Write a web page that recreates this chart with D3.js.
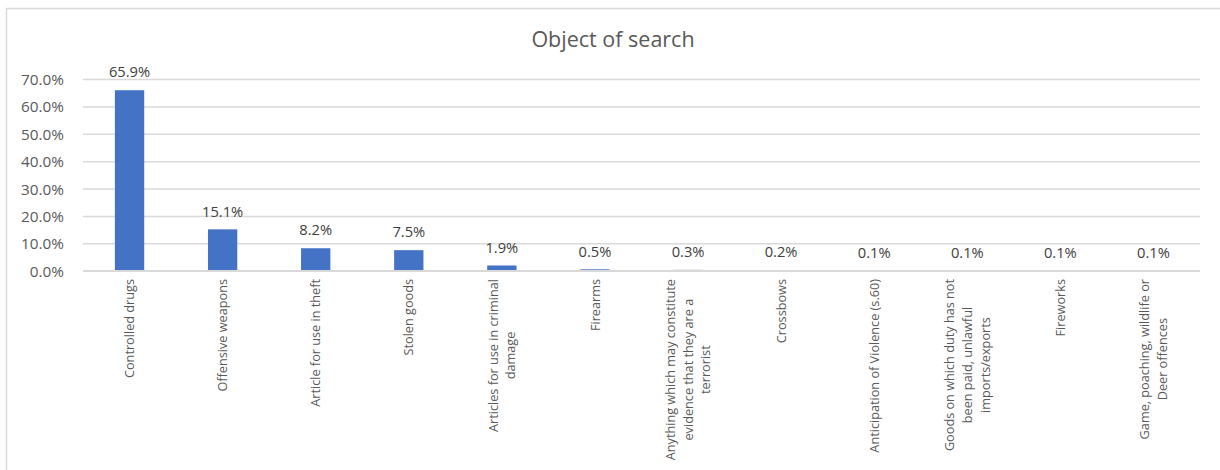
<!DOCTYPE html>
<html>
<head>
<meta charset="utf-8">
<script src="https://cdn.jsdelivr.net/npm/d3@7"></script>
<style>
  html, body { margin: 0; padding: 0; background: #fff; }
  svg { display: block; }
  text { font-family: "Open Sans", "Noto Sans", sans-serif; }
</style>
</head>
<body>
<svg id="chart" width="1220" height="470"></svg>
<script>
// ---- data ----
const title = "Object of search";
const categories = [
  "Controlled drugs",
  "Offensive weapons",
  "Article for use in theft",
  "Stolen goods",
  "Articles for use in criminal\ndamage",
  "Firearms",
  "Anything which may constitute\nevidence that they are a\nterrorist",
  "Crossbows",
  "Anticipation of Violence (s.60)",
  "Goods on which duty has not\nbeen paid, unlawful\nimports/exports",
  "Fireworks",
  "Game, poaching, wildlife or\nDeer offences"
];
const values = [65.9, 15.1, 8.2, 7.5, 1.9, 0.5, 0.3, 0.2, 0.1, 0.1, 0.1, 0.1];
const yTicks = [0, 10, 20, 30, 40, 50, 60, 70];

// ---- layout ----
const svg = d3.select("#chart");
const plot = { left: 83, right: 1200, top: 79, bottom: 270.7 };
const textColor = "#595959";
const gridColor = "#d9d9d9";
const barColor = "#4472C4";

// outer chart border (cropped at right/bottom like the reference)
svg.append("rect")
  .attr("x", 6.5).attr("y", 8.5)
  .attr("width", 1240).attr("height", 500)
  .attr("fill", "#fff")
  .attr("stroke", gridColor).attr("stroke-width", 1.5);

const x = d3.scaleBand()
  .domain(categories)
  .range([plot.left, plot.right])
  .paddingInner(0.685)
  .paddingOuter(0.3425);

const y = d3.scaleLinear()
  .domain([0, 70])
  .range([plot.bottom, plot.top]);

// title
svg.append("text")
  .attr("x", 613).attr("y", 46.5)
  .attr("text-anchor", "middle")
  .attr("fill", textColor)
  .style("font-size", "21.5px")
  .text(title);

// gridlines + y axis labels via d3.axisLeft
const yAxis = d3.axisLeft(y)
  .tickValues(yTicks)
  .tickSize(-(plot.right - plot.left))
  .tickPadding(19)
  .tickFormat(d => d.toFixed(1) + "%");

const gy = svg.append("g")
  .attr("transform", `translate(${plot.left},0)`)
  .call(yAxis);
gy.select(".domain").remove();
gy.selectAll(".tick line")
  .attr("stroke", gridColor)
  .attr("stroke-width", 1.5);
gy.selectAll(".tick text")
  .attr("fill", textColor)
  .attr("dy", "0.36em")
  .style("font-size", "15.3px")
  .style("font-family", "'Open Sans', sans-serif");

// bars
svg.append("g").selectAll("rect")
  .data(values)
  .join("rect")
  .attr("x", (d, i) => x(categories[i]))
  .attr("width", x.bandwidth())
  .attr("y", d => y(d))
  .attr("height", d => y(0) - y(d))
  .attr("fill", barColor);

// redraw baseline on top of bars
svg.append("line")
  .attr("x1", plot.left).attr("x2", plot.right)
  .attr("y1", y(0)).attr("y2", y(0))
  .attr("stroke", gridColor).attr("stroke-width", 1.5);

// data labels
svg.append("g").selectAll("text")
  .data(values)
  .join("text")
  .attr("x", (d, i) => x(categories[i]) + x.bandwidth() / 2)
  .attr("y", d => y(d) - 12.8)
  .attr("text-anchor", "middle")
  .attr("fill", "#404040")
  .style("font-size", "14.7px")
  .text(d => d.toFixed(1) + "%");

// category labels (rotated, wrapped, lines centred in block)
const lineGap = 17.8;
const catG = svg.append("g").selectAll("g")
  .data(categories)
  .join("g")
  .attr("transform", d => `translate(${x(d) + x.bandwidth() / 2},279) rotate(-90)`);

catG.each(function(d) {
  const g = d3.select(this);
  const lines = d.split("\n");
  const n = lines.length;
  const texts = g.selectAll("text")
    .data(lines)
    .join("text")
    .attr("fill", textColor)
    .style("font-size", "12.7px")
    .attr("y", (l, i) => (i - (n - 1) / 2) * lineGap)
    .attr("dy", "0.36em")
    .text(l => l);
  let maxLen = 0;
  texts.each(function() { maxLen = Math.max(maxLen, this.getComputedTextLength()); });
  texts.attr("x", -maxLen / 2).attr("text-anchor", "middle");
});
</script>
</body>
</html>
